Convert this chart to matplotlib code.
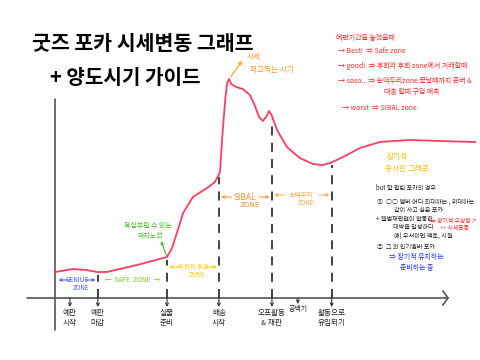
import numpy as np
import matplotlib
matplotlib.use("Agg")
import matplotlib.pyplot as plt

plt.rcParams['font.family'] = ['Noto Sans CJK KR', 'DejaVu Sans']

# Curve (time on x, price on y, arbitrary units)
curve_x = [0, 4.6, 7.9, 10.7, 13.2, 20.9, 28.5, 29.8, 31.0, 32.6, 35.1, 38.7, 40.7, 42.0,
           42.5, 43.3, 43.8, 44.3, 44.8, 46.1, 47.8, 49.6, 50.9, 51.9, 52.9, 53.7, 54.5,
           55.2, 56.5, 59.0, 62.3, 65.6, 68.2, 70.0, 73.3, 77.6, 82.7, 90.3, 98.0, 106.9]
curve_y = [13, 14.5, 14, 13, 13, 16.5, 20.5, 25, 32.5, 42.5, 50.5, 55, 58, 63,
           79, 99, 107.5, 109.5, 107, 105.5, 104.5, 101.5, 96, 90.5, 88.5, 90.5, 93.5,
           91, 84, 75.5, 70, 67, 66.5, 67.5, 70.5, 75, 78, 79, 78.5, 78]

# Stages on the time axis
stage_x = [3.8, 10.9, 28.5, 41.7, 55.2, 61.8, 70.4]
stage_labels = ["예판\n시작", "예판\n마감", "실물\n준비", "배송\n시작",
                "오프활동\n& 재판", "공백기", "활동으로\n유입되기"]
stage_dashed = [False, True, True, True, True, False, True]

# Zones between stages: (label, from stage, to stage, colour)
zones = [("GENIUS", 0, 1, "#3a5cff"),
         ("SAFE  ZONE", 1, 2, "#77cc22"),
         ("후회와 후회", 2, 3, "#ffcc00"),
         ("SIBAL", 3, 4, "#ff8c1a"),
         ("눈떡두리", 4, 6, "#ffa640")]

title_lines = ["굿즈 포카 시세변동 그래프", "+ 양도시기 가이드"]

red_notes = ["예판기간을 놓쳤을때",
             "→ Best!  ⇒ Safe zone",
             "→ good!  ⇒ 후회와 후회 zone에서 거래할때",
             "→ soso..  ⇒ 눈떡두리zone 끝날때까지 존버 &",
             "대충 할때 구입 예측",
             "→ worst  ⇒ SIBAL zone"]

black_notes = ["but 잘 팔린 포카의 경우",
               "①  ○○ 멤버 어디 최대하는 , 위대하는",
               "같이 사고 싶은 포카",
               "+ 앨범재판없이 활동한",
               "대박을 달성하다",
               "예) 우서이면 팩토, 시월",
               "②  그 외 인기멤버 포카"]

W, H = 480, 360
fig = plt.figure(figsize=(4.8, 3.6), dpi=100)
ax = fig.add_axes([0, 0, 1, 1])
# 1 x unit = 3.93 px from the y axis, 1 y unit = 2 px up from the x axis
ax.set_xlim(-55 / 3.93, (W - 55) / 3.93)
ax.set_ylim(-(H - 298) / 2, 298 / 2)
ax.axis("off")


def px(x, y):
    return x / W, 1 - y / H


# axes
ax.plot([-28 / 3.93, 393 / 3.93], [0, 0], color="#555555", lw=1.2, solid_capstyle="round")
ax.plot([0, 0], [-16, 99.5], color="#555555", lw=1.2, solid_capstyle="round")
ax.plot([393 / 3.93 - 1.3, 393 / 3.93, 393 / 3.93 - 1.3], [3.5, 0, -3.5], color="#555555", lw=1.2)

# curve
ax.plot(curve_x, curve_y, color="#ff3d5c", lw=1.3, solid_joinstyle="round")

# stage markers
tops = np.interp(stage_x, curve_x, curve_y)
for sx, lab, dashed, top in zip(stage_x, stage_labels, stage_dashed, tops):
    if dashed:
        ax.plot([sx, sx], [0, top - 1.5], color="#333333", lw=1.3, dashes=(5, 4))
    short = "\n" not in lab
    ax.annotate("", xy=(sx, -4.5 if not short else -3), xytext=(sx, 0),
                arrowprops=dict(arrowstyle="->", lw=0.8, color="#333333",
                                shrinkA=0, shrinkB=0, mutation_scale=5))
    ax.text(sx, -5.5 if not short else -3.5, lab, ha="center", va="top",
            fontsize=5.5 if not short else 5, linespacing=1.35, color="#222222")

# zones
zone_y = [6, 6, 12.5, 47.5, 48.5]
for (lab, a, b, col), zy in zip(zones, zone_y):
    xa, xb = stage_x[a], stage_x[b]
    if a == 0:
        xa = 0.3
    xm = (xa + xb) / 2
    if lab == "SAFE  ZONE":
        ax.text(xm, zy + 3, "←  " + lab + "  →", ha="center", va="center",
                fontsize=4.8, color=col)
    else:
        ax.annotate("", xy=(xa + 0.6, zy + 3), xytext=(xa + 3.2, zy + 3),
                    arrowprops=dict(arrowstyle="->", lw=0.7, color=col, shrinkA=0, shrinkB=0,
                                    mutation_scale=5))
        ax.annotate("", xy=(xb - 0.6, zy + 3), xytext=(xb - 3.2, zy + 3),
                    arrowprops=dict(arrowstyle="->", lw=0.7, color=col, shrinkA=0, shrinkB=0,
                                    mutation_scale=5))
        ax.text(xm, zy + 3, lab, ha="center", va="center",
                fontsize=6 if lab == "SIBAL" else 4.6, color=col)
        ax.text(xm + 1, zy - 1, "ZONE", ha="center", va="center",
                fontsize=5.5 if lab == "SIBAL" else 4.5, color=col)

# peak note
peak_i = int(np.argmax(curve_y))
ax.annotate("", xy=(curve_x[peak_i] + 3.3, curve_y[peak_i] + 9), xytext=(curve_x[peak_i], curve_y[peak_i]),
            arrowprops=dict(arrowstyle="->", lw=0.8, color="#ff9a1a", shrinkA=2, shrinkB=0,
                            mutation_scale=5))
fig.text(*px(247, 57), "시세", fontsize=5.5, color="#ff9a1a", va="center")
fig.text(*px(250, 70), "최고찍는 시기", fontsize=5.5, color="#ff9a1a", va="center")

# green note at 실물 준비
ax.annotate("", xy=(stage_x[2] - 1.5, tops[2] + 8), xytext=(stage_x[2], tops[2]),
            arrowprops=dict(arrowstyle="->", lw=0.8, color="#44bb22", shrinkA=1, shrinkB=0,
                            mutation_scale=5))
fig.text(*px(148, 226), "욕심부릴 수 있는", fontsize=5, color="#44bb22", ha="center", va="center")
fig.text(*px(150, 236), "마지노선", fontsize=5, color="#44bb22", ha="center", va="center")

# title
fig.text(*px(32, 44), title_lines[0], fontsize=14.8, fontweight="bold", color="black", va="center")
fig.text(*px(50, 77), title_lines[1], fontsize=14.5, fontweight="bold", color="black", va="center")

# red legend
red_pos = [(336, 38), (338, 51), (338, 66), (338, 81), (384, 92), (342, 108)]
for t, (x, y) in zip(red_notes, red_pos):
    fig.text(*px(x, y), t, fontsize=5, color="#ff2626", va="center")

# long-term text
fig.text(*px(387, 157), "장기적", fontsize=5.5, color="#ffbb00", va="center")
fig.text(*px(385, 169), "유사한 그래프", fontsize=5.5, color="#ffbb00", va="center")

black_pos = [(376, 188), (377, 202), (394, 210), (376, 219), (393, 227), (394, 237), (377, 247)]
for t, (x, y) in zip(black_notes, black_pos):
    fig.text(*px(x, y), t, fontsize=4.4, color="#222222", va="center")

fig.text(*px(430, 221), "⇒ 장기적 우상향↗", fontsize=4.2, color="#ff2626", va="center")
fig.text(*px(440, 229), "++ 시세폭등", fontsize=4.2, color="#ff2626", va="center")
fig.text(*px(389, 257), "⇒ 장기적 유지하는", fontsize=5, color="#2233ff", va="center")
fig.text(*px(400, 268), "준비하는 중", fontsize=5, color="#2233ff", va="center")

fig.savefig("out.png", dpi=100, facecolor="white")
